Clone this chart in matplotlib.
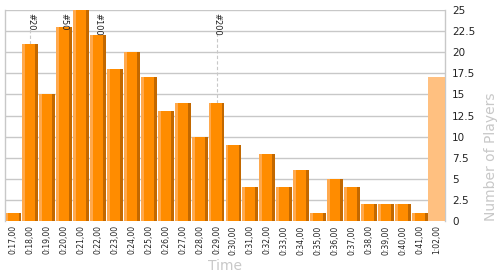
import matplotlib
matplotlib.use("Agg")
import matplotlib.pyplot as plt

# Dados do gráfico
times = ["0:17,00", "0:18,00", "0:19,00", "0:20,00", "0:21,00", "0:22,00",
         "0:23,00", "0:24,00", "0:25,00", "0:26,00", "0:27,00", "0:28,00",
         "0:29,00", "0:30,00", "0:31,00", "0:32,00", "0:33,00", "0:34,00",
         "0:35,00", "0:36,00", "0:37,00", "0:38,00", "0:39,00", "0:40,00",
         "0:41,00", "1:02,00"]
players = [1, 21, 15, 23, 25, 22, 18, 20, 17, 13, 14, 10, 14, 9, 4, 8, 4, 6,
           1, 5, 4, 2, 2, 2, 1, 17]
marker_names = ["#20", "#50", "#100", "#200"]
marker_times = ["0:18,00", "0:20,00", "0:22,00", "0:29,00"]

grid_color = "#c8c8c8"
label_color = "#c8c8c8"

fig = plt.figure(figsize=(5, 2.75), dpi=100)
ax = fig.add_axes([0.01, 0.196, 0.88, 0.768])

x = list(range(len(times)))
w = 0.94
strip = w * 0.18

# Barras com efeito 3D (faixa clara à esquerda, escura à direita)
main_x = x[:-1]
main_y = players[:-1]
ax.bar(main_x, main_y, width=w, color="#ff8c00", zorder=3)
ax.bar([i - w / 2 + strip / 2 for i in main_x], main_y, width=strip,
       color="#ffa94d", zorder=4)
ax.bar([i + w / 2 - strip / 2 for i in main_x], main_y, width=strip,
       color="#c26800", zorder=4)
# Última barra (clara, sem efeito)
ax.bar(x[-1:], players[-1:], width=1.0, color="#ffc080", zorder=3)

ax.set_xlim(-0.5, len(times) - 0.5)
ax.set_ylim(0, 25)

# Marcadores
for name, t in zip(marker_names, marker_times):
    i = times.index(t)
    ax.text(i, 24.6, name, rotation=270, ha="center", va="top",
            fontsize=6, color="#222222", zorder=6)
    top = 24.6 - 0.55 * (len(name) + 0.2)
    if players[i] < top:
        ax.plot([i, i], [players[i], top], ls=(0, (3, 2)), lw=0.8,
                color=grid_color, zorder=2)

ax.set_yticks([0, 2.5, 5, 7.5, 10, 12.5, 15, 17.5, 20, 22.5, 25])
ax.set_yticklabels(["0", "2.5", "5", "7.5", "10", "12.5", "15", "17.5",
                    "20", "22.5", "25"])
ax.yaxis.tick_right()
ax.yaxis.set_label_position("right")
ax.tick_params(axis="y", length=0, pad=5, labelsize=7.5, colors="#222222")
ax.set_xticks(x)
ax.set_xticklabels(times, rotation=90, fontsize=5.5)
ax.tick_params(axis="x", length=0, pad=3, colors="#222222")

ax.grid(axis="y", color=grid_color, lw=1, zorder=0)
for s in ["top", "bottom"]:
    ax.spines[s].set_visible(False)
for s in ["left", "right"]:
    ax.spines[s].set_color(grid_color)
    ax.spines[s].set_linewidth(1)

ax.set_ylabel("Number of Players", color=label_color, fontsize=10,
              rotation=90, labelpad=6, loc="bottom")
ax.set_xlabel("Time", color=label_color, fontsize=10, labelpad=3)

fig.savefig("out.png", dpi=100)
